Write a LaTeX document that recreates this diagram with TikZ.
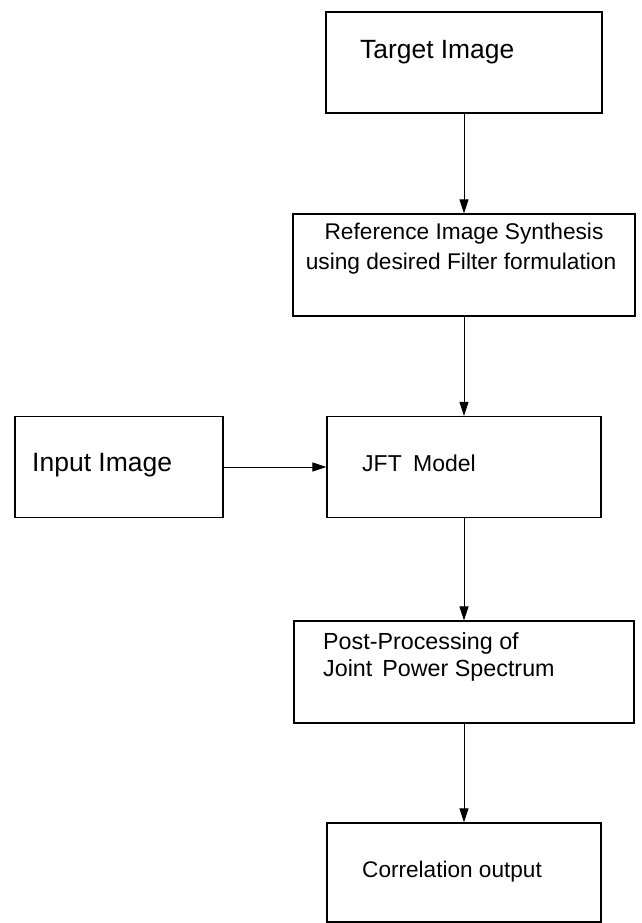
\documentclass[tikz,border=0pt]{standalone}
\usepackage{fontspec}
\setmainfont{Liberation Sans}
\usetikzlibrary{arrows.meta}
\begin{document}
\begin{tikzpicture}[x=1pt,y=-1pt,
  box/.style={draw, line width=1.3pt, inner sep=0pt},
  lbl/.style={inner sep=0pt, anchor=base west},
  clbl/.style={inner sep=0pt, anchor=base},
  conn/.style={line width=1pt, -{Triangle[length=14pt,width=9pt]}}]
\useasboundingbox (0,0) rectangle (642,923);
% boxes
\node[box, minimum width=276pt, minimum height=101pt] (target) at (464,62.5) {};
\node[box, minimum width=342pt, minimum height=102pt] (ref) at (464,265) {};
\node[box, minimum width=208pt, minimum height=101pt] (input) at (119,467) {};
\node[box, minimum width=274pt, minimum height=101pt] (jft) at (464,467) {};
\node[box, minimum width=340pt, minimum height=102pt] (post) at (464,672) {};
\node[box, minimum width=274pt, minimum height=99pt] (corr) at (464,872.5) {};
% texts
\node[lbl, font=\fontsize{26.4}{30}\selectfont] (ttarget) at (360,59) {Target Image};
\node[clbl, font=\fontsize{22.7}{30}\selectfont] (tref1) at (464,239) {Reference Image Synthesis};
\node[clbl, font=\fontsize{22.7}{30}\selectfont] (tref2) at (461,269) {using desired Filter formulation};
\node[lbl, font=\fontsize{26.5}{30}\selectfont] (tinput) at (32,471) {Input Image};
\node[lbl, font=\fontsize{23}{28}\selectfont] (tjft) at (362,471) {JFT\hspace{11.4pt}Model};
\node[lbl, font=\fontsize{23.3}{28}\selectfont] (tpost1) at (323,649) {Post-Processing of};
\node[lbl, font=\fontsize{23.3}{28}\selectfont] (tpost2) at (323,676) {Joint\hspace{10pt}Power Spectrum};
\node[lbl, font=\fontsize{22.6}{28}\selectfont] (tcorr) at (362,877) {Correlation output};
% connectors
\draw[conn] (target.south) -- (ref.north);
\draw[conn] (ref.south) -- (jft.north);
\draw[conn] (input.east) -- (jft.west);
\draw[conn] (jft.south) -- (post.north);
\draw[conn] (post.south) -- (corr.north);
\end{tikzpicture}
\end{document}
